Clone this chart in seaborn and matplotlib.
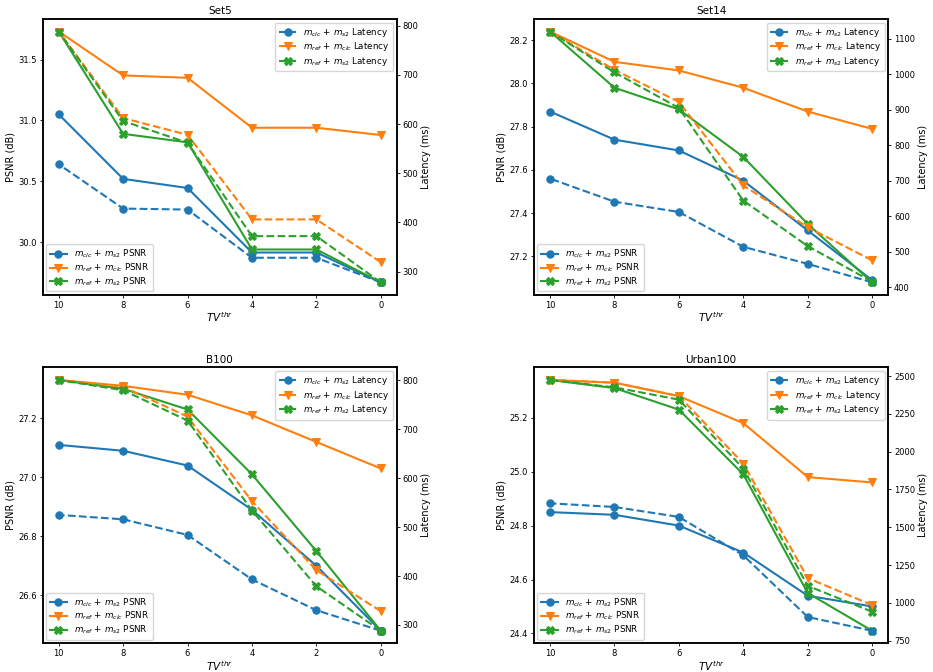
import matplotlib
matplotlib.use("Agg")
import matplotlib.pyplot as plt
import seaborn as sb

tv = [10, 8, 6, 4, 2, 0]
datasets = ["Set5", "Set14", "B100", "Urban100"]

# PSNR (dB)
psnr_clc_s2 = {
    "Set5": [31.05, 30.52, 30.445, 29.915, 29.915, 29.67],
    "Set14": [27.87, 27.74, 27.69, 27.55, 27.32, 27.09],
    "B100": [27.11, 27.09, 27.04, 26.89, 26.70, 26.48],
    "Urban100": [24.85, 24.84, 24.80, 24.70, 24.54, 24.50],
}
psnr_ref_clc = {
    "Set5": [31.73, 31.37, 31.35, 30.94, 30.94, 30.88],
    "Set14": [28.24, 28.10, 28.06, 27.98, 27.87, 27.79],
    "B100": [27.33, 27.31, 27.28, 27.21, 27.12, 27.03],
    "Urban100": [25.34, 25.33, 25.28, 25.18, 24.98, 24.96],
}
psnr_ref_s2 = {
    "Set5": [31.73, 30.89, 30.82, 29.94, 29.94, 29.67],
    "Set14": [28.24, 27.98, 27.88, 27.66, 27.35, 27.08],
    "B100": [27.33, 27.30, 27.23, 27.01, 26.75, 26.48],
    "Urban100": [25.34, 25.31, 25.23, 24.99, 24.55, 24.41],
}

# latency (ms)
lat_clc_s2 = {
    "Set5": [518, 428, 426, 328, 328, 278],
    "Set14": [706, 641, 612, 514, 466, 414],
    "B100": [525, 516, 484, 393, 330, 288],
    "Urban100": [1658, 1634, 1568, 1314, 906, 815],
}
lat_ref_clc = {
    "Set5": [788, 612, 578, 406, 406, 319],
    "Set14": [1120, 1012, 922, 687, 569, 476],
    "B100": [801, 787, 726, 553, 412, 328],
    "Urban100": [2474, 2456, 2368, 1921, 1164, 985],
}
lat_ref_s2 = {
    "Set5": [788, 606, 562, 372, 372, 278],
    "Set14": [1120, 1005, 905, 644, 516, 416],
    "B100": [801, 780, 718, 534, 379, 288],
    "Urban100": [2474, 2425, 2344, 1888, 1112, 941],
}

names = [r"$m_{clc}$ + $m_{s2}$", r"$m_{ref}$ + $m_{clc}$", r"$m_{ref}$ + $m_{s2}$"]
colors = ["#1f77b4", "#ff7f0e", "#2ca02c"]
markers = ["o", "v", "X"]

plt.rcParams["font.size"] = 6
plt.rcParams["xtick.major.size"] = 2.1
plt.rcParams["ytick.major.size"] = 2.1
plt.rcParams["xtick.major.pad"] = 2.1
plt.rcParams["ytick.major.pad"] = 2.1
plt.rcParams["xtick.major.width"] = 0.6
plt.rcParams["ytick.major.width"] = 0.6

fig, axes = plt.subplots(2, 2, figsize=(9.33, 6.72), dpi=100)
plt.subplots_adjust(left=0.0457, right=0.952, bottom=0.0427, top=0.9717, wspace=0.387, hspace=0.263)

for ax, name in zip(axes.flat, datasets):
    ax2 = ax.twinx()
    psnr = [psnr_clc_s2[name], psnr_ref_clc[name], psnr_ref_s2[name]]
    lat = [lat_clc_s2[name], lat_ref_clc[name], lat_ref_s2[name]]
    for i in range(3):
        sb.lineplot(x=tv, y=psnr[i], ax=ax, color=colors[i], marker=markers[i], markersize=5.3,
                    markeredgecolor=colors[i], linewidth=1.5, label=names[i] + " PSNR")
        sb.lineplot(x=tv, y=lat[i], ax=ax2, color=colors[i], marker=markers[i], markersize=5.3,
                    markeredgecolor=colors[i], linewidth=1.5, linestyle="--", label=names[i] + " Latency")
    ax.invert_xaxis()
    ax.set_xticks(tv)
    ax.set_title(name, fontsize=7.5, pad=3.5)
    ax.set_xlabel(r"$TV^{thr}$", fontsize=7.5, labelpad=0.5)
    ax.set_ylabel("PSNR (dB)", fontsize=7, labelpad=2)
    ax2.set_ylabel("Latency (ms)", fontsize=7, labelpad=2)
    ax.legend(loc="lower left", fontsize=6.3, labelspacing=0.15, borderaxespad=0.4)
    ax2.legend(loc="upper right", fontsize=6.3, labelspacing=0.15, borderaxespad=0.4)
    for a in (ax, ax2):
        a.tick_params(labelsize=6)
        for s in a.spines.values():
            s.set_linewidth(1.1)
            s.set_color("black")

plt.savefig("out.png", dpi=100)
